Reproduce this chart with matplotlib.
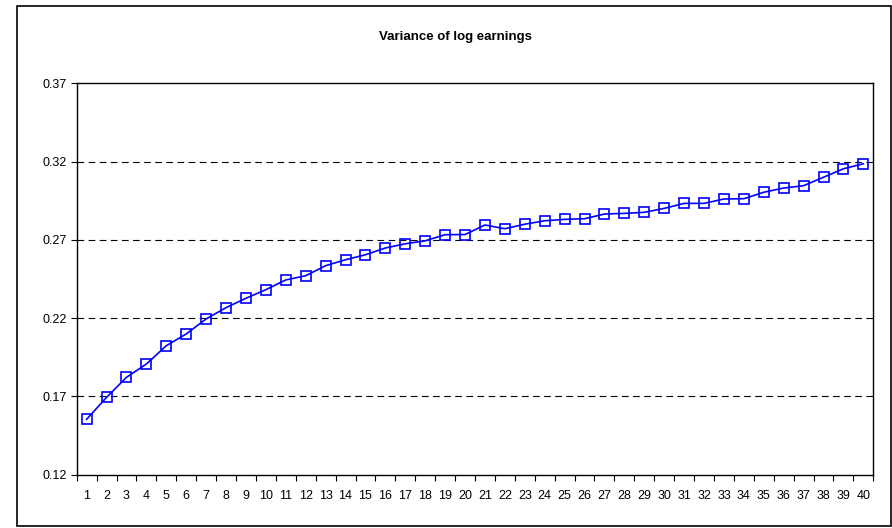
import matplotlib
matplotlib.use("Agg")
import matplotlib.pyplot as plt
from matplotlib.patches import Rectangle
import numpy as np

plt.rcParams['font.family'] = ['Liberation Sans', 'DejaVu Sans']

title = "Variance of log earnings"
periods = list(range(1, 41))
variance = [0.1554, 0.1694, 0.1822, 0.1907, 0.2024, 0.2099, 0.2195, 0.2267, 0.2327, 0.2382,
            0.2444, 0.2471, 0.2535, 0.2573, 0.2605, 0.2648, 0.2675, 0.2694, 0.2733, 0.2734,
            0.2795, 0.2771, 0.2800, 0.2822, 0.2831, 0.2835, 0.2865, 0.2869, 0.2876, 0.2901,
            0.2933, 0.2933, 0.2961, 0.2963, 0.3004, 0.3031, 0.3046, 0.3100, 0.3154, 0.3186]
yticks = [0.12, 0.17, 0.22, 0.27, 0.32, 0.37]

W, H = 892, 528
fig = plt.figure(figsize=(W/100, H/100), dpi=100)
# outer chart border
fig.patches.append(Rectangle((16.5/W, 1 - 526/H), (890.5-16.5)/W, (526-5.5)/H,
                             transform=fig.transFigure, fill=False, edgecolor='black', linewidth=1.2))

left, right, top, bottom = 76.7, 873.3, 83.3, 474.7
ax = fig.add_axes([left/W, 1 - bottom/H, (right-left)/W, (bottom-top)/H])

x = np.arange(len(periods))
ax.plot(x, variance, color='#0000ff', linewidth=1.2, marker='s', markersize=6.5,
        markerfacecolor='none', markeredgecolor='#0000ff', markeredgewidth=1.2, zorder=3)

ax.set_xlim(-0.5, len(periods) - 0.5)
ax.set_ylim(0.12, 0.37)
ax.set_yticks(yticks)
ax.set_yticklabels([f"{v:.2f}" for v in yticks], fontsize=9)
for v in yticks[1:-1]:
    ax.axhline(v, color='black', linestyle=(0, (6, 4)), linewidth=0.8, zorder=1)

ax.set_xticks(x)
ax.set_xticklabels([str(p) for p in periods], fontsize=9)
ax.tick_params(axis='x', which='major', length=0, pad=11)
ax.set_xticks(np.arange(-0.5, len(periods)), minor=True)
ax.tick_params(axis='x', which='minor', length=4, width=0.8, direction='out')
ax.tick_params(axis='y', which='major', length=4, width=0.8, direction='out', pad=3)

for s in ax.spines.values():
    s.set_color('black')
    s.set_linewidth(1.0)

fig.text(455/W, 1 - 37/H, title, ha='center', va='center', fontsize=9.5, fontweight='bold')

fig.savefig("out.png", dpi=100)
